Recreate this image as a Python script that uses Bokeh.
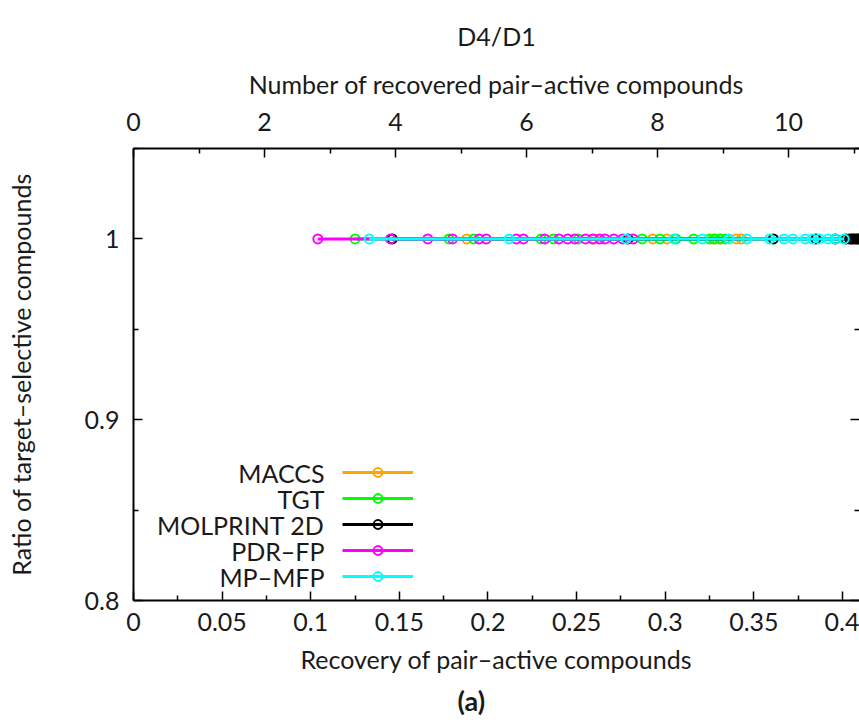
from bokeh.plotting import figure
from bokeh.models import (Range1d, LinearAxis, FixedTicker, Legend, LegendItem,
                          Label, Title)
from bokeh.embed import file_html
from bokeh.resources import INLINE

FONT = "Lato"
FS = "25px"
TXT = "#1a1a1a"

# ---------------- data ----------------
series_names = ["MACCS", "TGT", "MOLPRINT 2D", "PDR–FP", "MP–MFP"]
series_colors = ["#ffa500", "#00ff00", "#000000", "#ff00ff", "#00ffff"]

maccs_recovery = [0.188, 0.260, 0.293, 0.301, 0.327, 0.331, 0.340, 0.343]
maccs_ratio = [1.0, 1.0, 1.0, 1.0, 1.0, 1.0, 1.0, 1.0]

tgt_recovery = [0.125, 0.178, 0.192, 0.230, 0.237, 0.251, 0.287, 0.297,
                0.306, 0.316, 0.325, 0.328, 0.331, 0.334]
tgt_ratio = [1.0, 1.0, 1.0, 1.0, 1.0, 1.0, 1.0, 1.0, 1.0, 1.0, 1.0, 1.0, 1.0, 1.0]

molprint_recovery = [0.146, 0.279, 0.361, 0.385, 0.396, 0.402, 0.404, 0.405,
                     0.406, 0.407, 0.408, 0.409, 0.410, 0.412, 0.416]
molprint_ratio = [1.0, 1.0, 1.0, 1.0, 1.0, 1.0, 1.0, 1.0, 1.0, 1.0, 1.0, 1.0,
                  1.0, 1.0, 1.0]

pdrfp_recovery = [0.104, 0.145, 0.166, 0.180, 0.195, 0.199, 0.216, 0.220,
                  0.232, 0.240, 0.245, 0.249, 0.255, 0.259, 0.263, 0.266,
                  0.271, 0.276, 0.282]
pdrfp_ratio = [1.0, 1.0, 1.0, 1.0, 1.0, 1.0, 1.0, 1.0, 1.0, 1.0, 1.0, 1.0,
               1.0, 1.0, 1.0, 1.0, 1.0, 1.0, 1.0]

mpmfp_recovery = [0.133, 0.212, 0.278, 0.305, 0.321, 0.336, 0.346, 0.359,
                  0.367, 0.372, 0.379, 0.383, 0.387, 0.392, 0.396, 0.401]
mpmfp_ratio = [1.0, 1.0, 1.0, 1.0, 1.0, 1.0, 1.0, 1.0, 1.0, 1.0, 1.0, 1.0,
               1.0, 1.0, 1.0, 1.0]

# number of pair-active compounds (top axis = recovery * total)
pair_active_total = 27.06

# tick labels
x_ticks = [0, 0.05, 0.1, 0.15, 0.2, 0.25, 0.3, 0.35, 0.4]
x_tick_labels = ["0", "0.05", "0.1", "0.15", "0.2", "0.25", "0.3", "0.35", "0.4"]
x_minor = [0.025, 0.075, 0.125, 0.175, 0.225, 0.275, 0.325, 0.375]
y_ticks = [0.8, 0.9, 1.0]
y_tick_labels = ["0.8", "0.9", "1"]
y_minor = [0.85, 0.95, 1.05]
top_ticks = [0, 2, 4, 6, 8, 10]
top_tick_labels = ["0", "2", "4", "6", "8", "10"]
top_minor = [1, 3, 5, 7, 9, 11]

x_end = 0.4096
y_start, y_end = 0.8, 1.05

# ---------------- figure ----------------
p = figure(width=859, height=722, output_backend="svg", toolbar_location=None,
           x_range=Range1d(0, x_end), y_range=Range1d(y_start, y_end),
           x_axis_type=None, y_axis_type=None,
           min_border_left=133, min_border_right=0,
           min_border_top=148, min_border_bottom=122)
p.outline_line_color = None
p.background_fill_color = "white"
p.border_fill_color = "white"
p.extra_x_ranges = {"top": Range1d(0, x_end * pair_active_total)}


def style_axis(ax):
    ax.axis_line_width = 2
    ax.axis_line_color = "black"
    ax.major_tick_in = 9
    ax.major_tick_out = 0
    ax.minor_tick_in = 5
    ax.minor_tick_out = 0
    ax.major_tick_line_width = 1.5
    ax.minor_tick_line_width = 1.5
    ax.major_label_text_font = FONT
    ax.major_label_text_font_size = FS
    ax.major_label_text_color = TXT
    ax.axis_label_text_font = FONT
    ax.axis_label_text_font_size = FS
    ax.axis_label_text_font_style = "normal"
    ax.axis_label_text_color = TXT


bottom = LinearAxis(ticker=FixedTicker(ticks=x_ticks, minor_ticks=x_minor),
                    major_label_overrides=dict(zip(x_ticks, x_tick_labels)))
style_axis(bottom)
bottom.major_label_standoff = 12
p.add_layout(bottom, "below")

left = LinearAxis(ticker=FixedTicker(ticks=y_ticks, minor_ticks=y_minor),
                  major_label_overrides=dict(zip(y_ticks, y_tick_labels)),
                  axis_label="Ratio of target–selective compounds")
style_axis(left)
left.major_label_standoff = 14
left.axis_label_standoff = 46
p.add_layout(left, "left")

top = LinearAxis(x_range_name="top",
                 ticker=FixedTicker(ticks=top_ticks, minor_ticks=top_minor),
                 major_label_overrides=dict(zip(top_ticks, top_tick_labels)),
                 axis_label="Number of recovered pair–active compounds")
style_axis(top)
top.major_label_standoff = 18
top.axis_label_standoff = 11
p.add_layout(top, "above")

right = LinearAxis(ticker=FixedTicker(ticks=y_ticks, minor_ticks=y_minor),
                   major_label_overrides={t: "" for t in y_ticks})
style_axis(right)
right.axis_line_color = None
right.major_label_text_font_size = "0px"
right.major_label_standoff = 0
p.add_layout(right, "right")

p.title.text = "D4/D1"
p.title.align = "center"
p.title.text_font = FONT
p.title.text_font_size = FS
p.title.text_font_style = "normal"
p.title.text_color = TXT
p.title.standoff = 29

p.add_layout(Title(text="Recovery of pair–active compounds", align="center",
                   text_font=FONT, text_font_size=FS,
                   text_font_style="normal", text_color=TXT, standoff=16), "below")
p.add_layout(Title(text="(a)", align="left", offset=324, text_font=FONT,
                   text_font_size="27px", text_font_style="bold", text_color=TXT,
                   standoff=0), "below")

# ---------------- series ----------------
all_recovery = [maccs_recovery, tgt_recovery, molprint_recovery,
                pdrfp_recovery, mpmfp_recovery]
all_ratio = [maccs_ratio, tgt_ratio, molprint_ratio, pdrfp_ratio, mpmfp_ratio]

items = []
for name, color, rec, rat in zip(series_names, series_colors, all_recovery, all_ratio):
    r1 = p.line(rec, rat, line_color=color, line_width=3)
    r2 = p.scatter(rec, rat, marker="circle", size=9, line_color=color,
                   line_width=2, fill_color=None)
    items.append(LegendItem(label=" ", renderers=[r1, r2]))

leg_x, leg_y = 209, 13
glyph_h, gap = 22, 4
legend = Legend(items=items, location=(leg_x, leg_y), orientation="vertical",
                glyph_width=71, glyph_height=glyph_h, label_height=glyph_h,
                label_width=0, spacing=gap, padding=0, margin=0,
                label_standoff=0, label_text_font_size="1px",
                border_line_color=None, background_fill_alpha=0)
p.add_layout(legend)

n = len(series_names)
leg_h = n * glyph_h + (n - 1) * gap
for i, name in enumerate(series_names):
    cy = leg_y + leg_h - glyph_h / 2 - i * (glyph_h + gap)
    p.add_layout(Label(x=leg_x - 18, y=cy, x_units="screen", y_units="screen",
                       text=name, text_align="right", text_baseline="middle",
                       text_font=FONT, text_font_size=FS, text_color=TXT))

open("out.html", "w").write(file_html(p, INLINE))
